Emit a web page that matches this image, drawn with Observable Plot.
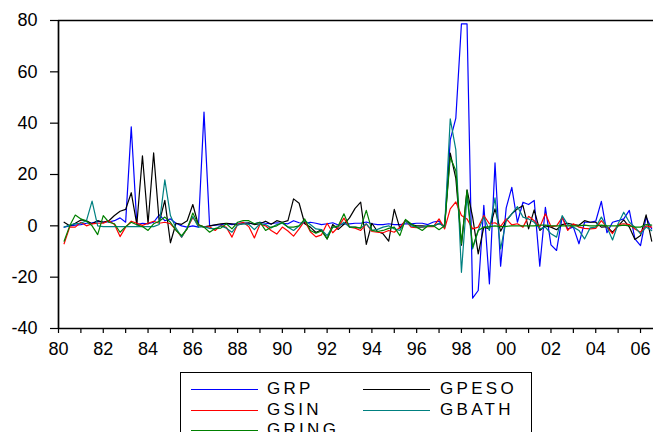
<!DOCTYPE html>
<html><head><meta charset="utf-8">
<script src="https://cdn.jsdelivr.net/npm/d3@7"></script>
<script src="https://cdn.jsdelivr.net/npm/@observablehq/plot@0.6"></script>
<style>
html,body{margin:0;padding:0;background:#fff;overflow:hidden;width:653px;height:432px;}
body{font-family:"Liberation Sans",Arial,sans-serif;}
#legend{position:relative;margin-left:180px;margin-top:6px;width:352px;height:80px;border:1px solid #000;box-sizing:border-box;}
#legend .sw{position:absolute;height:0;border-top:1.5px solid;}
#legend .lb{position:absolute;font-size:17px;letter-spacing:3.3px;line-height:20px;color:#000;}
</style></head><body>
<div id="chart"></div>
<div id="legend"></div>
<script>
// Quarterly growth series, 1980Q2 onward
const startYear = 1980.25;
const seriesNames = ["GRP","GPESO","GSIN","GBATH","GRING"];
const seriesColors = ["#0000ff","#000000","#ff0000","#008080","#008000"];

const GRP = [-0.5,0,0.3,0.5,1,1.2,1.7,1.5,1.5,2,3.1,1.4,38.6,0.5,1,0.8,1.4,4.3,2,2.7,1,0,-0.5,0,-0.5,44.3,0,0.3,0.5,0.8,0.5,1,1.2,1,0.8,1.4,1,0.8,1.2,1,0.8,2,1.2,1,1.4,1,0.5,0.8,1.2,0.3,0.8,0.8,1,1,1.5,0.8,0.5,0.5,0.8,0.5,0.5,0.8,0.8,1,1,0.5,1.5,1.8,-0.5,33.5,42,78.7,78.7,-28.2,-25.2,8,-22.6,24.5,-15.7,7,15,1.4,9.2,8.3,9.9,-15.7,7.2,-7.4,-9.6,3.4,-1.2,-0.5,-7,1.4,1.4,1.8,9.5,-2.7,1.4,2,2.7,6,-5.1,-7.7,3.4,-1.2];
const GPESO = [1.4,0,1,2.3,2,0.8,2,1.4,2,4,5.7,6.4,12.9,0.5,27.3,0.8,28.4,1.4,9.9,-6.6,1,0.6,2,8.3,0.3,-0.4,0,0.4,0.8,1,0.8,0.4,0.8,1.2,0.5,0.8,1.8,0.6,2,1.4,2,10.5,8.8,0.8,-0.5,-2.6,-1.5,-5.1,0.5,-1.4,0.6,3.1,6.8,9.2,-7.2,1,-2.2,-3.1,-6,6.4,-1,2.2,0.5,0,0,-0.2,0,0.8,0,28.3,18.5,-7.5,14,3.4,-10.9,-0.5,-1.2,6.6,-2.1,2,4.7,6.6,7.9,-1.2,6.2,-1.8,0,-0.5,-1.5,0.5,1,0.5,0.2,2,1.4,1.4,-0.5,-0.3,-2.5,0,2.3,-0.5,-5.3,-3.8,4.3,-6];
const GSIN = [-7,-0.5,-0.5,1.4,0,0.8,1,1,2,0.5,-4.2,-0.5,1.8,1,0.2,1,1.8,1,1.4,0.8,-1.6,-4.4,-1,3.3,0.3,-0.5,-0.4,-1.8,0.2,-0.6,-4.4,0.6,1.4,-0.3,-4.7,0.6,0,-1.8,-3.2,-0.5,-2,-4,-1.2,2,-2.3,-4.3,-3.5,1,-2.7,-0.5,3,-0.5,-0.9,-1.8,0.8,-2.2,-2.5,-2.7,-1.8,-2.5,-0.5,2,-0.5,-0.7,-0.5,-0.3,-0.3,2.7,-1.2,6.6,9.3,4,2.7,-1.2,-0.5,4,0.8,1.2,-0.2,2.7,0.4,0.8,-0.5,3.7,2,-0.5,4.7,-0.3,0,3.2,-1.8,0.8,-0.5,-1,-1.2,-1,2,-0.5,-3,0.5,0.8,0.5,-1.2,-2.5,0,-0.5];
const GBATH = [-0.5,0.3,0.8,1,2,9.6,0,-0.3,-0.3,-0.3,-0.3,-0.3,-0.3,-0.3,-0.3,-0.3,-0.3,0.5,17.9,4,-0.9,-4.4,-0.8,3.6,-0.5,-0.3,-1,-1.2,0,-0.9,-2.5,0.4,0.8,0.6,-1.5,0.8,0.5,-0.8,0.5,1,-0.5,-1.8,0,2,0.5,-1.2,-1.5,-3.8,-0.5,-0.3,1.4,-0.5,-0.5,-0.9,0.8,-1.8,-1.4,-0.5,0,-1.2,-1.8,1.8,0,-0.5,-0.5,0,0,1,-0.5,41.7,29.6,-18.1,11.8,-9,-1.8,3.4,-1.8,10.9,-9,2,4.7,7.5,3.4,2.7,1.4,-1.2,-0.5,-3.1,-4.4,4,0.5,-0.5,-1.8,-5.1,-0.8,-0.5,3.4,-0.5,-5.5,0.8,5.3,1.4,-0.5,-3.1,-0.5,-1.9];
const GRING = [-6,0,4.2,2.7,1.8,0,-3.4,4,1.4,0.8,-2.5,-0.3,1.4,0.4,-0.3,-1.8,0.8,1.8,3.4,1.4,-1.8,-3.8,-1.2,5,0.5,-0.5,-2.5,-1,-0.9,0.8,-1.2,1.4,2,2,0.8,1.4,-1.8,-0.5,0,1.4,-0.5,-0.5,0,2.7,-1.8,-2.9,-2,-5.1,-0.5,0,4.7,-0.5,-0.5,-0.9,6,-1.8,-2.2,-1.8,-1,-0.5,-3.8,2.5,0.8,-0.5,-1.8,0,0,-1.5,0,26.7,21.5,-7,13.8,-8.3,-1.8,-0.5,-0.3,0,-0.3,-0.2,0,0,0,0,0,0.3,0.3,0,0,0,0,0,0,0.3,0,0,0.3,0,0,0,0.3,0,-0.5,-0.5,0.5,0.3];

const yTicks = [-40,-20,0,20,40,60,80];
const xTicks = d3.range(1980, 2007);

const allSeries = [GRP, GPESO, GSIN, GBATH, GRING];
const rows = [];
allSeries.forEach((arr, s) => arr.forEach((v, i) => rows.push({series: seriesNames[s], t: startYear + i * 0.25, v})));

const chart = Plot.plot({
  width: 653, height: 366,
  marginTop: 20, marginBottom: 38, marginLeft: 58, marginRight: 0,
  style: {fontFamily: '"Liberation Sans", Arial, sans-serif', fontSize: "18px", color: "#000", background: "#fff"},
  x: {domain: [1980, 2006.58]},
  y: {domain: [-40, 80]},
  color: {domain: seriesNames, range: seriesColors},
  marks: [
    Plot.lineY(rows, {x: "t", y: "v", z: "series", stroke: "series", strokeWidth: 1.2, clip: true}),
    Plot.ruleY([80], {stroke: "#000", strokeWidth: 1.7}),
    Plot.ruleY([-40], {stroke: "#000", strokeWidth: 1.7}),
    Plot.ruleX([1980], {stroke: "#000", strokeWidth: 1.7}),
    Plot.axisX({ticks: xTicks, tickSize: 5, tickPadding: 9, label: null, strokeWidth: 1.2,
      tickFormat: d => d % 2 === 0 ? String(d % 100).padStart(2, "0") : ""}),
    Plot.axisY({ticks: yTicks, tickSize: 8, tickPadding: 13, label: null, strokeWidth: 1.2, tickFormat: d => String(d)})
  ]
});
document.getElementById("chart").appendChild(chart);

// legend below the chart
const lg = document.getElementById("legend");
const cols = [{line: 10, text: 86}, {line: 182, text: 259}];
const rowY = [16, 37, 57];
seriesNames.forEach((name, k) => {
  const c = cols[k % 2], r = rowY[Math.floor(k / 2)];
  const sw = document.createElement("div");
  sw.className = "sw";
  sw.style.left = c.line + "px"; sw.style.top = r + "px"; sw.style.width = "67px";
  sw.style.borderTopColor = seriesColors[k];
  lg.appendChild(sw);
  const lb = document.createElement("div");
  lb.className = "lb";
  lb.style.left = c.text + "px"; lb.style.top = (r - 10) + "px";
  lb.textContent = name;
  lg.appendChild(lb);
});
</script>
</body></html>
